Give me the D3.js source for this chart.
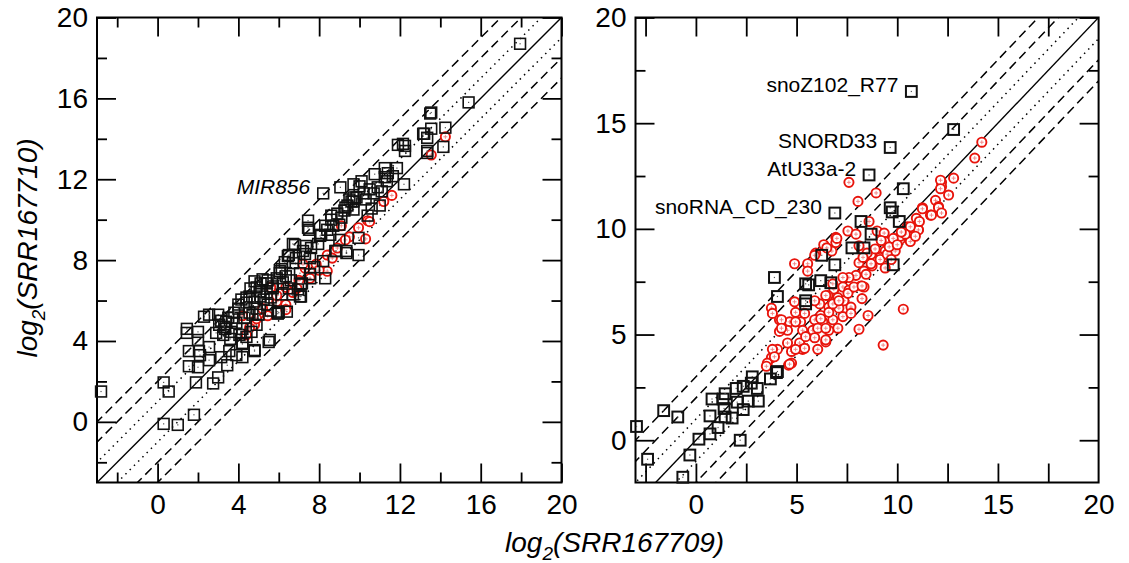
<!DOCTYPE html>
<html>
<head>
<meta charset="utf-8">
<script src="https://cdn.jsdelivr.net/npm/d3@7"></script>
<style>
  body { margin: 0; background: #fff; }
  svg { display: block; font-family: "Liberation Sans", Arial, Helvetica, sans-serif; }
</style>
</head>
<body>
<div id="chart"></div>
<script>
// ---- data: [log2(SRR167709), log2(SRR167710)] ----
const leftSquares = [
  [-2.8,1.5],[0.3,-0.1],[1.0,-0.15],[1.8,0.35],[0.3,1.95],[0.55,1.5],[1.9,1.95],[2.75,1.9],[3.0,2.2],[1.55,2.75],
  [2.0,2.7],[1.55,3.5],[2.05,3.5],[2.55,3.7],[2.1,3.3],[2.55,3.05],[3.15,3.2],[3.45,2.8],[3.55,3.5],[3.9,3.3],
  [4.2,3.2],[4.8,3.5],[5.5,3.95],[1.45,4.6],[1.45,4.4],[2.0,4.45],[2.0,4.05],[2.3,5.2],[2.55,5.3],[3.0,5.3],
  [3.05,4.8],[3.25,4.3],[3.35,4.6],[3.65,4.45],[3.4,4.95],[3.7,5.15],[4.0,5.6],[4.05,4.3],[4.2,3.9],[4.4,4.2],
  [4.15,6.05],[4.55,6.2],[4.8,5.95],[4.3,5.15],[4.7,5.3],[5.05,6.45],[5.2,7.05],[5.25,6.05],[5.7,6.7],[5.95,5.35],
  [6.4,5.45],[4.8,6.95],[5.4,6.85],[6.05,7.35],[6.95,6.55],[7.1,6.2],[6.45,8.2],[6.7,7.85],
  [8.2,11.3],[9.05,11.6],[9.7,11.75],[10.0,11.65],[10.5,11.5],[10.75,12.25],[11.25,12.55],[11.85,12.55],[11.65,12.15],[11.35,11.9],
  [12.2,11.75],[11.9,13.7],[12.25,13.65],[12.25,13.4],[13.35,13.4],[13.15,14.25],[9.6,10.9],[9.85,11.1],[9.7,10.5],[10.6,10.55],
  [9.1,10.1],[9.0,9.75],[8.6,10.0],[7.45,9.95],[7.45,9.6],[7.5,9.5],[8.05,9.2],[8.55,9.25],[9.0,9.0],[9.95,9.1],
  [9.35,8.35],[9.95,8.25],[8.85,8.45],[8.2,7.95],[6.8,8.75],[7.35,8.7],[7.55,8.1],[8.3,7.1],[6.05,7.45],[7.1,6.8],
  [7.55,7.1],[5.7,6.6],[7.05,6.2],[5.95,5.45],
  [17.95,18.7],[15.4,15.8],[13.5,15.25],[13.55,15.3],[13.55,14.5],[14.25,14.55],[13.2,14.25],[13.35,14.05],[14.15,13.6],[13.35,13.3],
  [12.15,13.75],[11.25,12.1],
  [9.7,11.1],[9.7,10.9],[11.0,10.7],[9.25,10.45],[8.4,9.5],[8.1,9.25],[7.95,8.8],[6.7,8.8],[6.5,8.25],[6.85,8.1],
  [7.2,8.45],[6.15,7.55],[6.35,7.2],[7.05,7.35],[7.55,7.3],[7.75,7.65],[7.15,6.85],[5.45,7.0],[5.1,6.85],[4.9,6.65],
  [4.4,6.15],[4.0,5.8],[3.5,5.15],[3.15,5.0],[4.55,5.4],[4.9,5.6],[5.45,5.8],[6.0,5.4],[5.6,6.15],[6.15,6.3],
  [4.9,4.8],[4.65,4.45],[4.2,3.85],[4.8,3.55],[5.55,4.05],[8.8,8.45],[9.35,8.45],[10.4,10.2],
  [8.6,10.2],[8.9,10.3],[9.3,10.6],[9.5,11.0],[10.2,11.3],[10.3,11.0],[10.7,11.3],[10.9,11.6],[11.1,11.4],[11.4,12.3],
  [10.1,11.9],[8.7,9.7],[8.3,9.7],[9.4,10.7],[7.3,8.3],[7.6,8.6],[6.3,7.9],[6.6,7.0],[5.9,7.1],[6.2,6.9],
  [5.1,6.2],[5.4,6.4],[4.6,6.6],[3.8,5.4],[3.3,4.7],[3.9,4.9],[4.4,5.9],[5.0,5.3],[5.6,5.5],[6.5,6.6],
  [6.7,6.3],[4.2,4.6],[3.6,4.1],[2.9,4.4]
];

const leftCircles = [
  [14.25,14.1],[13.55,13.2],[11.6,11.2],[11.2,10.9],[10.4,9.95],[10.5,9.9],[9.95,9.6],[9.5,9.15],[10.3,9.05],[9.1,9.7],
  [8.4,8.25],[8.65,8.1],[8.4,7.45],[7.85,7.8],[7.55,7.1],[7.3,7.6],[7.2,7.8],[6.35,6.65],[6.7,6.4],[6.35,5.8],
  [6.35,5.55],[5.9,5.95],[5.45,5.25],[4.8,4.8],[4.55,4.65],[4.2,5.25],[4.4,4.3],[5.6,6.65],[5.9,6.25],[7.0,7.0],
  [8.0,7.5],[8.9,8.6],[9.3,9.0],[6.9,6.6],[5.2,5.6],[4.9,5.1]
];

const rightSquares = [
  [10.7,16.5],[12.8,14.7],[9.65,13.85],[8.6,12.55],[6.9,10.75],[10.3,11.9],[9.65,11.0],[9.75,10.8],[10.1,10.35],[8.2,10.35],
  [8.7,9.75],[7.75,9.1],[8.35,9.1],[6.25,8.75],[6.9,8.3],[9.8,8.3],[3.9,7.7],[4.05,6.8],[5.45,7.4],[5.6,7.35],
  [6.2,7.55],[6.7,7.45],[5.45,6.45],[5.45,6.6],[4.0,3.2],[4.05,3.25],[3.7,2.9],
  [-2.95,0.65],[-1.6,1.4],[-0.9,1.1],[-2.4,-0.9],[-0.3,-0.7],[-0.65,-1.75],[0.15,0.05],[0.7,0.3],[1.1,0.6],
  [0.7,1.15],[1.45,1.1],[1.8,1.05],[0.8,1.95],[1.35,1.95],[1.45,2.2],[2.0,2.45],[2.35,2.55],[2.8,3.0],[2.75,2.7],
  [3.05,2.45],[3.1,1.85],[2.6,1.85],[2.05,1.8],[2.35,1.45],[1.4,1.5],[2.2,0.0]
];

const rightCircles = [
  [7.6,12.2],[8.05,11.3],[8.6,10.35],[7.55,9.9],[6.95,9.6],[6.95,9.35],[6.75,8.95],[6.35,9.25],[5.95,8.85],[4.9,8.35],
  [5.55,8.35],[5.55,8.0],[7.95,9.75],[8.1,9.2],[9.0,9.9],[9.35,9.8],[9.4,9.4],[9.9,8.95],[10.15,9.5],[10.5,10.1],
  [10.75,10.05],[11.05,9.95],[11.25,11.0],[11.65,10.65],[11.9,11.35],[12.05,11.05],[12.2,12.2],[12.2,12.0],[12.55,11.6],[9.4,8.95],
  [9.15,8.65],[9.4,8.15],[8.75,8.25],[8.1,8.4],[8.35,8.0],[8.7,8.8],[7.95,7.8],[7.6,7.7],[7.3,7.25],[7.6,7.1],
  [8.2,7.3],[8.35,7.25],[6.85,7.15],[6.55,6.85],[7.05,6.75],[7.35,6.6],[7.7,6.3],[7.1,6.25],[6.6,6.3],[6.15,6.45],
  [4.9,6.55],[4.95,6.05],[5.4,6.0],[6.2,5.9],[6.8,5.7],[7.3,5.85],[7.05,5.3],[6.6,5.2],[6.3,5.6],[5.8,5.2],
  [5.9,5.7],[5.2,5.6],[4.65,5.6],[4.15,5.7],[4.55,5.2],[4.15,5.15],[3.75,6.25],[3.8,6.0],[4.05,4.3],[3.75,3.9],
  [3.55,3.65],[4.75,4.2],[5.15,4.6],[5.3,4.3],[5.9,4.85],[6.45,4.65],[6.05,4.3],[4.75,3.65],[8.1,5.25],[8.55,5.9],
  [9.3,4.5],[10.3,6.2],[14.2,14.1],[13.85,13.35],[12.8,12.4],[12.15,12.3],[12.15,11.9],[12.05,11.0],[11.25,10.95],[12.2,10.75],
  [11.7,10.65],[10.95,10.5],[11.05,9.95],[10.65,10.1],[10.65,9.4],[10.15,9.65],[8.95,11.7],[5.9,8.75],[6.5,9.1],[7.0,9.55],
  [6.45,4.75],[4.6,3.55],[3.5,3.5],[4.25,5.7],[4.25,5.3],[4.95,5.6],[5.3,5.2],[5.45,4.9],[5.4,4.35],[4.95,4.3],
  [4.55,4.6],[3.8,4.3],[3.9,3.95],[4.65,3.6],[6.05,5.3],[6.45,5.3],[6.2,5.75],[6.6,6.05],[5.9,6.6],[6.45,6.85],
  [6.8,6.45],[7.1,6.6],[7.55,6.95],[7.85,7.25],[8.25,7.3],[7.7,6.0],[8.25,6.7],[7.3,7.7],[6.8,7.4],[8.45,7.85],
  [8.7,8.35],[9.15,8.55],[9.5,8.8],[8.9,9.05],[9.6,9.15],[9.8,9.55],[10.0,9.25],[9.2,9.45],[8.5,8.85],[8.3,8.65],
  [9.7,8.55],[10.4,9.75],[10.9,9.65],[11.1,10.35],[10.2,9.85]
];

const leftLabels = [{ text: "MIR856", x: 8.2, y: 11.3 }];
const rightLabels = [
  { text: "snoZ102_R77", x: 10.7, y: 16.5 },
  { text: "SNORD33", x: 9.65, y: 13.85 },
  { text: "AtU33a-2", x: 8.6, y: 12.55 },
  { text: "snoRNA_CD_230", x: 6.9, y: 10.75 }
];

// y = x + offset guide lines
const guideOffsets = [0, 1, -1, 2, -2, 3, -3];

// ticks
const leftMajor = [0, 4, 8, 12, 16, 20];
const leftMinorX = [-2, 2, 6, 10, 14, 18];
const leftMinorY = [-2, 2, 6, 10, 14, 18];
const rightXTicks = [-2.5, 0, 2.5, 5, 7.5, 10, 12.5, 15, 17.5];
const rightXLabels = [0, 5, 10, 15, 20];
const rightYMajor = [0, 5, 10, 15, 20];
const rightYMinor = [2.5, 7.5, 12.5, 17.5];

const xTitle = ["log", "2", "(SRR167709)"];
const yTitle = ["log", "2", "(SRR167710)"];

let width = 1129;
let height = 563;
let longTick = 19, shortTick = 10;

let svg = d3.select("#chart")
    .append("svg")
    .attr("width", width)
    .attr("height", height);

function tickAxis(g, axis, values, size, pad) {
    g.call(axis.tickValues(values)
        .tickSize(-size)
        .tickSizeOuter(0)
        .tickPadding(pad || 0)
        .tickFormat(pad ? d3.format("d") : ""));
    g.select(".domain").remove();
    g.selectAll("line").attr("stroke", "#000").attr("stroke-width", 1.8);
    g.selectAll("text").attr("font-size", 28).attr("fill", "#000");
}

function drawPanel(p) {
    const x = d3.scaleLinear().domain(p.xDomain).range([p.left, p.right]);
    const y = d3.scaleLinear().domain(p.yDomain).range([p.bottom, p.top]);
    const g = svg.append("g");

    g.append("clipPath").attr("id", "clip-" + p.id)
        .append("rect")
        .attr("x", p.left).attr("y", p.top)
        .attr("width", p.right - p.left).attr("height", p.bottom - p.top);

    // guide lines
    const line = d3.line().x(d => x(d[0])).y(d => y(d[1]));
    const lines = g.append("g").attr("clip-path", `url(#clip-${p.id})`);
    guideOffsets.forEach(o => {
        lines.append("path")
            .datum([[-6, -6 + o], [26, 26 + o]])
            .attr("d", line)
            .attr("fill", "none")
            .attr("stroke", "#000")
            .attr("stroke-width", o === 0 ? 1.4 : 1.5)
            .attr("stroke-dasharray", o === 0 ? null : Math.abs(o) === 1 ? "1.5,4.5" : "9,5");
    });

    // axes (ticks inward on all four sides)
    const h = p.bottom - p.top, w = p.right - p.left;
    tickAxis(g.append("g").attr("transform", `translate(0,${p.bottom})`), d3.axisBottom(x), p.xMajor, longTick);
    tickAxis(g.append("g").attr("transform", `translate(0,${p.bottom})`), d3.axisBottom(x), p.xLabels, 0, 12);
    tickAxis(g.append("g").attr("transform", `translate(0,${p.bottom})`), d3.axisBottom(x), p.xMinor, shortTick);
    tickAxis(g.append("g").attr("transform", `translate(0,${p.top})`), d3.axisTop(x), p.xMajor, longTick);
    tickAxis(g.append("g").attr("transform", `translate(0,${p.top})`), d3.axisTop(x), p.xMinor, shortTick);
    tickAxis(g.append("g").attr("transform", `translate(${p.left},0)`), d3.axisLeft(y), p.yMajor, longTick, 9);
    tickAxis(g.append("g").attr("transform", `translate(${p.left},0)`), d3.axisLeft(y), p.yMinor, shortTick);
    tickAxis(g.append("g").attr("transform", `translate(${p.right},0)`), d3.axisRight(y), p.yMajor, longTick);
    tickAxis(g.append("g").attr("transform", `translate(${p.right},0)`), d3.axisRight(y), p.yMinor, shortTick);

    g.append("rect")
        .attr("x", p.left).attr("y", p.top)
        .attr("width", w).attr("height", h)
        .attr("fill", "none").attr("stroke", "#000").attr("stroke-width", 2);

    // red circles underneath
    const c = g.selectAll(".pt-c").data(p.circles).enter()
        .append("g").attr("class", "pt-c")
        .attr("transform", d => `translate(${x(d[0])},${y(d[1])})`);
    c.append("circle").attr("r", 4.6)
        .attr("fill", "#fff").attr("stroke", "#e8140c").attr("stroke-width", 1.9);
    c.append("path").attr("d", "M-2,0H2M0,-2V2")
        .attr("stroke", "#f08080").attr("stroke-width", 0.9);

    // black squares
    const s = g.selectAll(".pt-s").data(p.squares).enter()
        .append("g").attr("class", "pt-s")
        .attr("transform", d => `translate(${x(d[0])},${y(d[1])})`);
    s.append("rect").attr("x", -5.4).attr("y", -5.4)
        .attr("width", 10.8).attr("height", 10.8)
        .attr("fill", "none").attr("stroke", "#111").attr("stroke-width", p.sqStroke);
    s.append("rect").attr("x", -0.6).attr("y", -0.6).attr("width", 1.2).attr("height", 1.2)
        .attr("fill", "#555");

    // point labels
    g.selectAll(".lab").data(p.labels).enter()
        .append("text")
        .attr("x", d => x(d.x) - 13)
        .attr("y", d => y(d.y) - 5)
        .attr("text-anchor", "end")
        .attr("dominant-baseline", "middle")
        .attr("font-size", 21)
        .attr("font-style", p.labelItalic ? "italic" : "normal")
        .text(d => d.text);
}

drawPanel({
    id: "left", left: 97, right: 561.5, top: 17.5, bottom: 482.5,
    xDomain: [-3, 20], yDomain: [-3, 20],
    xMajor: leftMajor, xLabels: leftMajor, xMinor: leftMinorX,
    yMajor: leftMajor, yMinor: leftMinorY,
    squares: leftSquares, circles: leftCircles, labels: leftLabels,
    sqStroke: 1.6, labelItalic: true
});

drawPanel({
    id: "right", left: 635.5, right: 1098.6, top: 17.5, bottom: 482.5,
    xDomain: [-3, 20], yDomain: [-2, 20],
    xMajor: rightXTicks, xLabels: rightXLabels, xMinor: [],
    yMajor: rightYMajor, yMinor: rightYMinor,
    squares: rightSquares, circles: rightCircles, labels: rightLabels,
    sqStroke: 2, labelItalic: false
});

// axis titles
function title(sel, parts) {
    sel.attr("font-size", 28).attr("font-style", "italic").attr("fill", "#000");
    sel.append("tspan").text(parts[0]);
    sel.append("tspan").attr("font-size", 19).attr("dy", 8).text(parts[1]);
    sel.append("tspan").attr("dy", -8).text(parts[2]);
}

title(svg.append("text").attr("x", 505).attr("y", 552), xTitle);
title(svg.append("text")
    .attr("transform", "translate(37,248) rotate(-90)")
    .attr("text-anchor", "middle"), yTitle);
</script>
</body>
</html>
